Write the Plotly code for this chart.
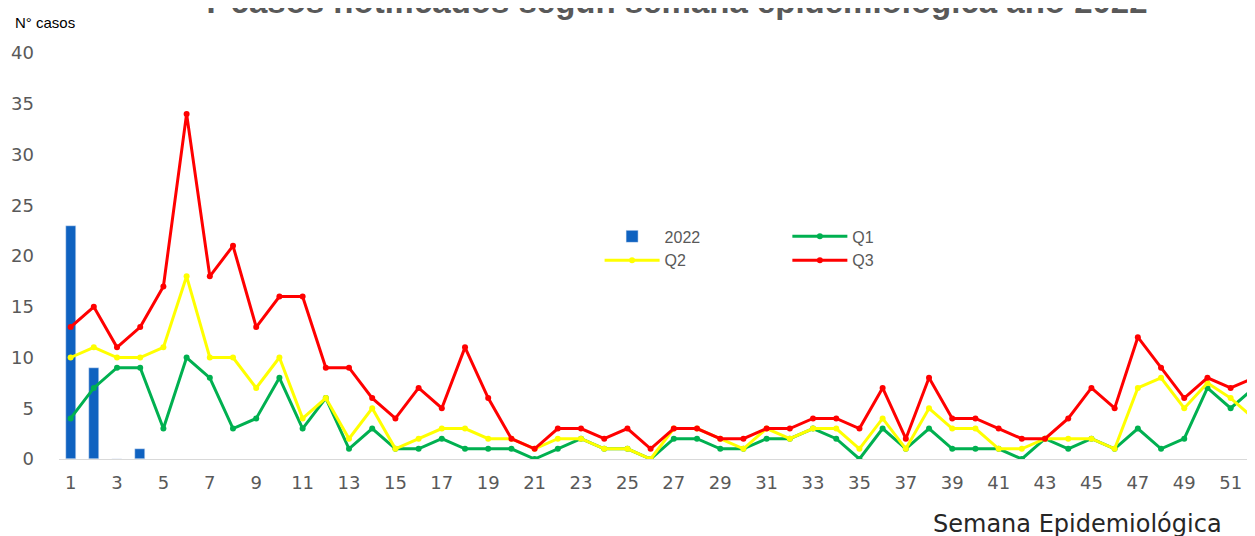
import plotly.graph_objects as go

weeks = list(range(1, 53))
weeks_2022 = [1, 2, 3, 4]
cases_2022 = [23, 9, 0, 1]
q1 = [4, 7, 9, 9, 3, 10, 8, 3, 4, 8, 3, 6, 1,
      3, 1, 1, 2, 1, 1, 1, 0, 1, 2, 1, 1, 0,
      2, 2, 1, 1, 2, 2, 3, 2, 0, 3, 1, 3, 1,
      1, 1, 0, 2, 1, 2, 1, 3, 1, 2, 7, 5, 7]
q2 = [10, 11, 10, 10, 11, 18, 10, 10, 7, 10, 4, 6, 2,
      5, 1, 2, 3, 3, 2, 2, 1, 2, 2, 1, 1, 0,
      3, 3, 2, 1, 3, 2, 3, 3, 1, 4, 1, 5, 3,
      3, 1, 1, 2, 2, 2, 1, 7, 8, 5, 7.5, 6, 4]
q3 = [13, 15, 11, 13, 17, 34, 18, 21, 13, 16, 16, 9, 9,
      6, 4, 7, 5, 11, 6, 2, 1, 3, 3, 2, 3, 1,
      3, 3, 2, 2, 3, 3, 4, 4, 3, 7, 2, 8, 4,
      4, 3, 2, 2, 4, 7, 5, 12, 9, 6, 8, 7, 8]
x_tick_vals = list(range(1, 53, 2))
x_tick_text = [str(v) for v in x_tick_vals]
y_tick_vals = [0, 5, 10, 15, 20, 25, 30, 35, 40]

title_text = "Y casos notificados según semana epidemiológica año 2022"
y_title = "N° casos"
x_title = "Semana Epidemiológica"

GRAY = "#595959"
TICKFONT = dict(family="DejaVu Sans", size=18, color=GRAY)

fig = go.Figure()
fig.add_trace(go.Bar(x=weeks_2022, y=cases_2022, name="2022", marker_color="#0F62C0",
                     width=0.43, legend="legend"))
fig.add_trace(go.Scatter(x=weeks, y=q1, name="Q1", mode="lines+markers",
                         line=dict(color="#00B050", width=3), marker=dict(size=6),
                         legend="legend2"))
fig.add_trace(go.Scatter(x=weeks, y=q2, name="Q2", mode="lines+markers",
                         line=dict(color="#FFFF00", width=3), marker=dict(size=6),
                         legend="legend"))
fig.add_trace(go.Scatter(x=weeks, y=q3, name="Q3", mode="lines+markers",
                         line=dict(color="#FF0000", width=3), marker=dict(size=6),
                         legend="legend2"))

legend_common = dict(font=dict(family="Liberation Sans", size=16, color=GRAY),
                     bgcolor="rgba(0,0,0,0)", orientation="v", itemwidth=55,
                     tracegroupgap=0, yanchor="top", xanchor="left", traceorder="normal")

# the page body adds an 8px offset; margins compensate for it
fig.update_layout(
    width=1255, height=536,
    margin=dict(l=51, r=8, t=45, b=85, autoexpand=False),
    paper_bgcolor="white", plot_bgcolor="white",
    bargap=0,
    xaxis=dict(range=[0.5, 52.05], tickmode="array", tickvals=x_tick_vals, ticktext=x_tick_text,
               tickfont=TICKFONT, showgrid=False, zeroline=False, showline=True,
               linecolor="#D9D9D9", linewidth=1, ticks="", ticklen=0,
               ticklabelstandoff=7, automargin=False),
    yaxis=dict(range=[0, 40], tickmode="array", tickvals=y_tick_vals, tickfont=TICKFONT,
               showgrid=False, zeroline=False, showline=False, ticks="",
               ticklabelstandoff=24, automargin=False),
    legend=dict(x=0.452, y=0.59, **legend_common),
    legend2=dict(x=0.609, y=0.59, **legend_common),
    showlegend=True,
)

fig.add_annotation(text="<b>" + title_text + "</b>", xref="paper", yref="paper", x=0.514, y=1.0,
                   xanchor="center", yanchor="middle", yshift=52, showarrow=False,
                   font=dict(family="Liberation Sans", size=33, color=GRAY))
fig.add_annotation(text=y_title, xref="paper", yref="paper", x=-0.0385, y=1.0,
                   xanchor="left", yanchor="middle", yshift=31, showarrow=False,
                   font=dict(family="Liberation Sans Narrow, Liberation Sans", size=15, color="#000000"))
fig.add_annotation(text=x_title, xref="paper", yref="paper", x=0.852, y=0.0,
                   xanchor="center", yanchor="middle", yshift=-65, showarrow=False,
                   font=dict(family="DejaVu Sans", size=24, color="#262626"))

fig.write_html("out.html")
